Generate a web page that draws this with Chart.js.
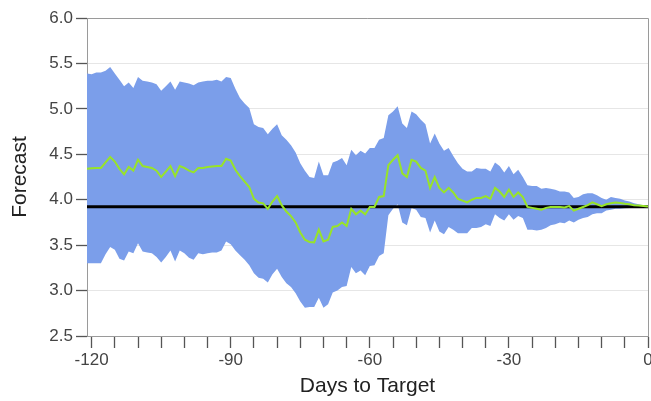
<!DOCTYPE html>
<html>
<head>
<meta charset="utf-8">
<script src="https://cdn.jsdelivr.net/npm/chart.js@4.4.1/dist/chart.umd.min.js"></script>
<style>
  html, body { margin: 0; padding: 0; background: #ffffff; }
  #wrap { width: 651px; height: 401px; }
</style>
</head>
<body>
<div id="wrap"><canvas id="c" width="651" height="401"></canvas></div>
<script>
// Days before the target date, one point per day
const days = Array.from({ length: 122 }, (_, i) => i - 121);

// Mean forecast per day
const forecastMean = [
  4.34, 4.345, 4.35, 4.35, 4.41, 4.47, 4.42, 4.34, 4.28, 4.36,
  4.32, 4.44, 4.37, 4.36, 4.35, 4.32, 4.25, 4.31, 4.37, 4.26,
  4.37, 4.35, 4.32, 4.30, 4.35, 4.35, 4.36, 4.365, 4.37, 4.37,
  4.45, 4.43, 4.33, 4.26, 4.20, 4.14, 4.01, 3.97, 3.96, 3.90,
  3.98, 4.04, 3.94, 3.87, 3.82, 3.75, 3.64, 3.56, 3.535, 3.53,
  3.67, 3.54, 3.56, 3.70, 3.71, 3.75, 3.71, 3.90, 3.84, 3.88,
  3.84, 3.92, 3.92, 4.03, 4.04, 4.38, 4.44, 4.49, 4.29, 4.25,
  4.44, 4.42, 4.35, 4.32, 4.13, 4.25, 4.13, 4.08, 4.13, 4.08,
  4.01, 3.99, 3.97, 4.00, 4.02, 4.02, 4.04, 4.01, 4.13, 4.09,
  4.03, 4.11, 4.03, 4.08, 4.03, 3.92, 3.91, 3.90, 3.89, 3.91,
  3.92, 3.92, 3.92, 3.915, 3.93, 3.88, 3.90, 3.92, 3.94, 3.97,
  3.95, 3.93, 3.95, 3.96, 3.97, 3.965, 3.955, 3.95, 3.94, 3.935,
  3.93, 3.925
];

// Upper edge of the forecast spread
const forecastUpper = [
  5.39, 5.38, 5.40, 5.40, 5.42, 5.46, 5.39, 5.32, 5.25, 5.29,
  5.23, 5.35, 5.31, 5.30, 5.29, 5.27, 5.20, 5.25, 5.30, 5.21,
  5.30, 5.29, 5.28, 5.26, 5.29, 5.30, 5.31, 5.31, 5.32, 5.30,
  5.35, 5.34, 5.22, 5.12, 5.06, 5.01, 4.83, 4.80, 4.79, 4.72,
  4.78, 4.83, 4.71, 4.66, 4.60, 4.52, 4.40, 4.32, 4.25, 4.24,
  4.42, 4.27, 4.27, 4.41, 4.43, 4.46, 4.38, 4.55, 4.49, 4.54,
  4.51, 4.57, 4.57, 4.66, 4.68, 4.93, 4.97, 5.03, 4.84, 4.79,
  4.97, 4.94, 4.88, 4.83, 4.62, 4.73, 4.62, 4.54, 4.57, 4.48,
  4.40, 4.34, 4.31, 4.31, 4.35, 4.34, 4.34, 4.31, 4.41, 4.37,
  4.30, 4.37, 4.28, 4.33, 4.25, 4.16, 4.15, 4.15, 4.12, 4.13,
  4.12, 4.11, 4.09, 4.09, 4.08, 4.02, 4.03, 4.06, 4.07, 4.07,
  4.05, 4.02, 4.00, 4.03, 4.02, 4.01, 3.99, 3.98, 3.96, 3.95,
  3.94, 3.93
];

// Lower edge of the forecast spread
const forecastLower = [
  3.30, 3.30, 3.30, 3.30, 3.40, 3.48, 3.45, 3.35, 3.33, 3.43,
  3.41, 3.52, 3.43, 3.42, 3.41, 3.37, 3.31, 3.37, 3.44, 3.32,
  3.44, 3.41, 3.36, 3.34, 3.41, 3.40, 3.41, 3.42, 3.42, 3.44,
  3.54, 3.51, 3.44, 3.39, 3.34, 3.28, 3.19, 3.14, 3.13, 3.09,
  3.18, 3.24, 3.15, 3.08, 3.04, 2.97, 2.88, 2.81, 2.82, 2.82,
  2.92, 2.81, 2.85, 2.98, 3.00, 3.04, 3.05, 3.26, 3.19, 3.22,
  3.17, 3.27, 3.28, 3.38, 3.41, 3.83, 3.90, 3.95, 3.75, 3.72,
  3.91, 3.89, 3.81, 3.80, 3.64, 3.77, 3.65, 3.62, 3.70, 3.67,
  3.63, 3.63, 3.63, 3.69, 3.69, 3.70, 3.73, 3.71, 3.84, 3.80,
  3.77, 3.84, 3.78, 3.82, 3.80, 3.67, 3.67, 3.66, 3.67, 3.69,
  3.72, 3.73, 3.75, 3.74, 3.77, 3.75, 3.78, 3.80, 3.81, 3.84,
  3.85, 3.85, 3.88, 3.89, 3.90, 3.90, 3.905, 3.91, 3.915, 3.92,
  3.92, 3.92
];

// Realised target value
const targetValue = 3.923;

// Axis ticks
const xTickValues = [-120, -115, -110, -105, -100, -95, -90, -85, -80, -75, -70, -65,
  -60, -55, -50, -45, -40, -35, -30, -25, -20, -15, -10, -5, 0];
const xLabelValues = [-120, -90, -60, -30, 0];
const yTickValues = [2.5, 3.0, 3.5, 4.0, 4.5, 5.0, 5.5, 6.0];

const FONT = '"Liberation Sans", Arial, Helvetica, sans-serif';
const toPoints = arr => days.map((d, i) => ({ x: d, y: arr[i] }));

// Thin grey frame along the top and right of the plot area
const framePlugin = {
  id: 'frame',
  beforeDatasetsDraw(chart) {
    const { ctx, chartArea: a } = chart;
    ctx.save();
    ctx.strokeStyle = '#9a9a9a';
    ctx.lineWidth = 1;
    ctx.beginPath();
    ctx.moveTo(a.left, a.top + 0.5);
    ctx.lineTo(a.right + 0.5, a.top + 0.5);
    ctx.lineTo(a.right + 0.5, a.bottom);
    ctx.stroke();
    ctx.restore();
  }
};

new Chart(document.getElementById('c'), {
  type: 'line',
  data: {
    datasets: [
      {
        label: 'Mean forecast',
        data: toPoints(forecastMean),
        borderColor: 'rgb(152,228,40)',
        borderWidth: 2,
        pointRadius: 0,
        fill: false,
        tension: 0
      },
      {
        label: 'Target',
        data: [{ x: days[0], y: targetValue }, { x: days[days.length - 1], y: targetValue }],
        borderColor: '#000000',
        borderWidth: 3,
        pointRadius: 0,
        fill: false
      },
      {
        label: 'Upper',
        data: toPoints(forecastUpper),
        borderColor: 'rgba(0,0,0,0)',
        borderWidth: 0,
        pointRadius: 0,
        backgroundColor: 'rgb(123,158,234)',
        fill: '+1',
        tension: 0
      },
      {
        label: 'Lower',
        data: toPoints(forecastLower),
        borderColor: 'rgba(0,0,0,0)',
        borderWidth: 0,
        pointRadius: 0,
        fill: false,
        tension: 0
      }
    ]
  },
  options: {
    responsive: false,
    animation: false,
    devicePixelRatio: 1,
    layout: { padding: { top: 18, right: 3, bottom: 0, left: 0 } },
    plugins: { legend: { display: false }, tooltip: { enabled: false } },
    scales: {
      x: {
        type: 'linear',
        min: -121,
        max: 0,
        afterBuildTicks: s => { s.ticks = xTickValues.map(v => ({ value: v })); },
        afterFit: s => { s.paddingLeft = 0; s.paddingRight = 0; s.height = 65; },
        ticks: {
          autoSkip: false,
          maxRotation: 0,
          padding: 2,
          color: '#444444',
          font: { family: FONT, size: 17 },
          callback: v => (xLabelValues.includes(v) ? String(v) : '')
        },
        grid: { drawOnChartArea: false, tickLength: 12, tickColor: '#555555', tickWidth: 1.3 },
        border: { color: '#9a9a9a', width: 1 },
        title: {
          display: true,
          text: 'Days to Target',
          color: '#222222',
          font: { family: FONT, size: 21 },
          padding: { top: 0, bottom: 2 }
        }
      },
      y: {
        min: 2.5,
        max: 6.0,
        afterBuildTicks: s => { s.ticks = yTickValues.map(v => ({ value: v })); },
        afterFit: s => { s.width = 87; },
        ticks: {
          padding: 3,
          color: '#444444',
          font: { family: FONT, size: 17 },
          callback: v => Number(v).toFixed(1)
        },
        grid: { color: '#e6e6e6', lineWidth: 1, tickLength: 11, tickColor: '#555555', tickWidth: 1.3 },
        border: { color: '#9a9a9a', width: 1 },
        title: {
          display: true,
          text: 'Forecast',
          color: '#222222',
          font: { family: FONT, size: 21 },
          padding: { top: 8, bottom: 0 }
        }
      }
    }
  },
  plugins: [framePlugin]
});
</script>
</body>
</html>
